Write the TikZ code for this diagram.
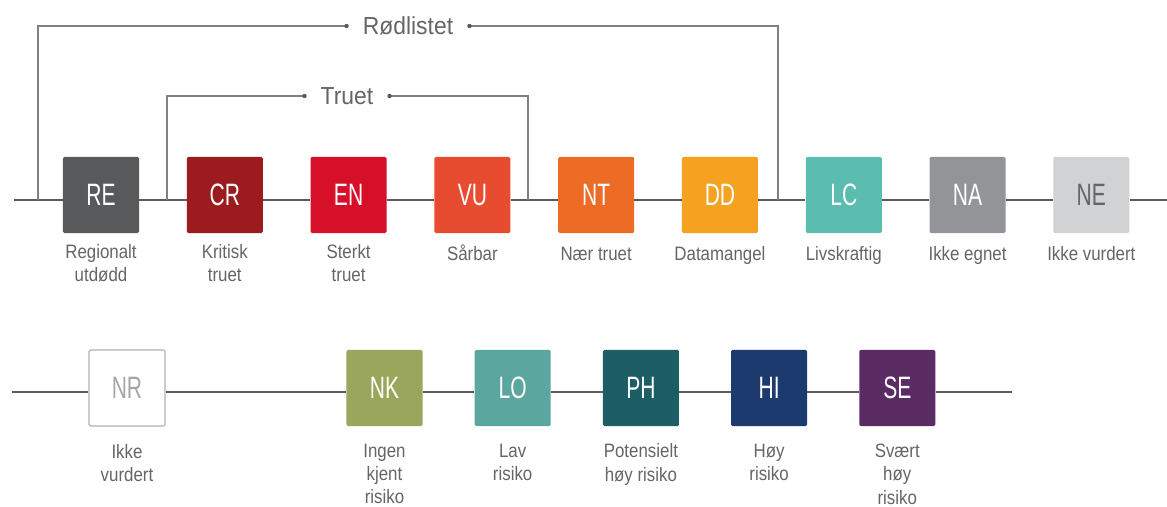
\documentclass[tikz,border=0pt]{standalone}
\usepackage{fontspec}
\setmainfont{Liberation Sans}
\newfontfamily\boxfont[FakeStretch=0.68]{Liberation Sans}
\newfontfamily\lblfont[FakeStretch=0.87]{Liberation Sans}
\newfontfamily\brfont[FakeStretch=0.93]{Liberation Sans}
\usetikzlibrary{positioning}

\definecolor{reC}{HTML}{58595B}
\definecolor{crC}{HTML}{9B1B1F}
\definecolor{enC}{HTML}{D7102A}
\definecolor{vuC}{HTML}{E84C30}
\definecolor{ntC}{HTML}{EC6B25}
\definecolor{ddC}{HTML}{F4A21F}
\definecolor{lcC}{HTML}{5BBCB0}
\definecolor{naC}{HTML}{929497}
\definecolor{neC}{HTML}{D1D2D4}
\definecolor{nkC}{HTML}{9AA65C}
\definecolor{loC}{HTML}{5CA6A0}
\definecolor{phC}{HTML}{1C5D66}
\definecolor{hiC}{HTML}{1D3A6E}
\definecolor{seC}{HTML}{5B2C63}
\definecolor{txtgray}{HTML}{646567}
\definecolor{linegray}{HTML}{5A5A5A}

\tikzset{
  cat/.style={fill=#1, minimum size=1.9cm, rounded corners=1pt, inner sep=0pt,
    text=white, font=\boxfont\fontsize{22}{22}\selectfont},
  catlbl/.style={below=0.26cm of #1, inner sep=0pt, align=center, text=txtgray,
    font=\lblfont\fontsize{13.8}{16.6}\selectfont, execute at begin node={\vphantom{Å}}},
  lowlbl/.style={catlbl=#1, below=0.43cm of #1},
  axis/.style={draw=linegray, line width=0.06cm},
  brack/.style={draw=black!50, line width=0.032cm},
  brlbl/.style={inner xsep=0.4cm, inner ysep=0pt, text=txtgray,
    font=\brfont\fontsize{17.5}{17.5}\selectfont},
}

\begin{document}
\begin{tikzpicture}[x=0.025cm,y=-0.025cm]
\useasboundingbox (0,0) rectangle (1167,507);

% upper row
\node[cat=reC] (RE) at (101,195) {RE};
\node[cat=crC, right=1.18cm of RE] (CR) {CR};
\node[cat=enC, right=1.18cm of CR] (EN) {EN};
\node[cat=vuC, right=1.18cm of EN] (VU) {VU};
\node[cat=ntC, right=1.18cm of VU] (NT) {NT};
\node[cat=ddC, right=1.18cm of NT] (DD) {DD};
\node[cat=lcC, right=1.18cm of DD] (LC) {LC};
\node[cat=naC, right=1.18cm of LC] (NA) {NA};
\node[cat=neC, text=txtgray, right=1.18cm of NA] (NE) {NE};
\coordinate (top-a) at (14,200);
\coordinate (top-b) at (1167,200);
\draw[axis] (top-a) -- (top-a -| RE.west);
\foreach \a/\b in {RE/CR,CR/EN,EN/VU,VU/NT,NT/DD,DD/LC,LC/NA,NA/NE}{
\draw[axis] ([yshift=-0.125cm]\a.east) -- ([yshift=-0.125cm]\b.west);
}
\draw[axis] (top-b -| NE.east) -- (top-b);

\node[catlbl=RE] (RE-l) {Regionalt\\utdødd};
\node[catlbl=CR] (CR-l) {Kritisk\\truet};
\node[catlbl=EN] (EN-l) {Sterkt\\truet};
\node[catlbl=VU] (VU-l) {Sårbar};
\node[catlbl=NT] (NT-l) {Nær truet};
\node[catlbl=DD] (DD-l) {Datamangel};
\node[catlbl=LC] (LC-l) {Livskraftig};
\node[catlbl=NA] (NA-l) {Ikke egnet};
\node[catlbl=NE] (NE-l) {Ikke vurdert};

% brackets
\node[brlbl] (rodl) at (408,26) {Rødlistet};
\node[brlbl] (truet) at (347,96) {Truet};
\coordinate (rodl-a) at (38,200);
\coordinate (rodl-b) at (778,200);
\coordinate (truet-a) at (167,200);
\coordinate (truet-b) at (528,200);
\draw[brack] (rodl-a) |- (rodl.west);
\draw[brack] (rodl-b) |- (rodl.east);
\draw[brack] (truet-a) |- (truet.west);
\draw[brack] (truet-b) |- (truet.east);
\foreach \n in {rodl.west,rodl.east,truet.west,truet.east}{
\fill[linegray] (\n) circle (2.2);
}

% lower row
\node[cat=white, draw=black!30, line width=0.03cm, text=black!35] (NR) at (127,388) {NR};
\node[cat=nkC] (NK) at (384.5,388) {NK};
\node[cat=loC, right=1.29cm of NK] (LO) {LO};
\node[cat=phC, right=1.29cm of LO] (PH) {PH};
\node[cat=hiC, right=1.29cm of PH] (HI) {HI};
\node[cat=seC, right=1.29cm of HI] (SE) {SE};
\coordinate (bot-a) at (12,392);
\coordinate (bot-b) at (1012,392);
\draw[axis] (bot-a) -- (bot-a -| NR.west);
\foreach \a/\b in {NR/NK,NK/LO,LO/PH,PH/HI,HI/SE}{
\draw[axis] ([yshift=-0.1cm]\a.east) -- ([yshift=-0.1cm]\b.west);
}
\draw[axis] (bot-b -| SE.east) -- (bot-b);

\node[lowlbl=NR] (NR-l) {Ikke\\vurdert};
\node[lowlbl=NK] (NK-l) {Ingen\\kjent\\risiko};
\node[lowlbl=LO] (LO-l) {Lav\\risiko};
\node[lowlbl=PH] (PH-l) {Potensielt\\høy risiko};
\node[lowlbl=HI] (HI-l) {Høy\\risiko};
\node[lowlbl=SE] (SE-l) {Svært\\høy\\risiko};
\end{tikzpicture}
\end{document}
